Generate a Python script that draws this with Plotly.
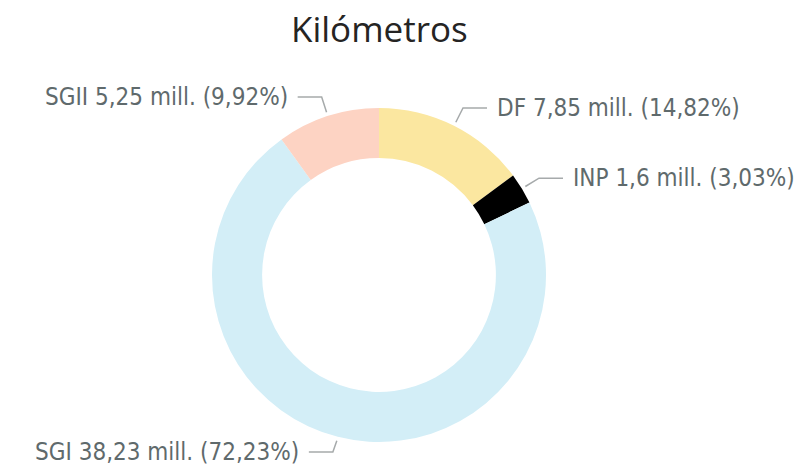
import math
import plotly.graph_objects as go

# data
categories = ["DF", "INP", "SGI", "SGII"]
values = [7.85, 1.6, 38.23, 5.25]          # millones de km
value_text = ["7,85", "1,6", "38,23", "5,25"]
pct_text = ["14,82", "3,03", "72,23", "9,92"]
colors = ["#FBE7A0", "#000000", "#D3EEF7", "#FDD3C3"]

W, H = 803, 468
CX, CY, R = 379, 275, 167   # donut centre / radius in pixels
LABEL_COLOR = "#5F6A6C"
LINE_COLOR = "#A6AAAB"
LABEL_FONT = "DejaVu Sans Condensed, Liberation Sans Narrow, Roboto, sans-serif"

fig = go.Figure()
fig.add_trace(go.Pie(
    labels=categories, values=values, hole=0.70,
    sort=False, direction="clockwise", rotation=0,
    marker=dict(colors=colors, line=dict(width=0)),
    textinfo="none", showlegend=False,
    domain=dict(x=[(CX - R) / W, (CX + R) / W],
                y=[(H - CY - R) / H, (H - CY + R) / H]),
    hovertemplate="%{label}: %{value} mill.<extra></extra>",
))

# leader lines + labels, positioned from each slice's mid angle
total = sum(values)
cum = 0.0
for cat, v, vt, pt in zip(categories, values, value_text, pct_text):
    mid = (cum + v / 2) / total * 2 * math.pi
    cum += v
    sx, sy = math.sin(mid), -math.cos(mid)
    x0, y0 = CX + (R + 4) * sx, CY + (R + 4) * sy
    x1, y1 = CX + (R + 20) * sx, CY + (R + 20) * sy
    y1 = min(y1, H - 16)   # keep bottom label inside the frame
    side = 1 if sx >= 0 else -1
    x2 = x1 + side * 24
    fig.add_shape(type="path", xref="x", yref="y",
                  path=f"M{x0},{y0} L{x1},{y1} L{x2},{y1}",
                  line=dict(color=LINE_COLOR, width=1.5))
    fig.add_annotation(
        x=x2 + side * 8, y=y1, xref="x", yref="y",
        text=f"{cat} {vt} mill. ({pt}%)", showarrow=False,
        xanchor="left" if side > 0 else "right", yanchor="middle",
        font=dict(family=LABEL_FONT, size=24, color=LABEL_COLOR),
    )

fig.add_annotation(
    x=CX, y=28, xref="x", yref="y", text="Kilómetros", showarrow=False,
    xanchor="center", yanchor="middle",
    font=dict(family="Open Sans, Noto Sans, sans-serif", size=35, color="#252423"),
)

fig.update_layout(
    width=W, height=H, margin=dict(l=0, r=0, t=0, b=0),
    paper_bgcolor="white", plot_bgcolor="white",
    xaxis=dict(range=[0, W], visible=False, fixedrange=True),
    yaxis=dict(range=[H, 0], visible=False, fixedrange=True),
)
fig.write_html("out.html", config={"displayModeBar": False},
               post_script="document.body.style.margin = '0';")
